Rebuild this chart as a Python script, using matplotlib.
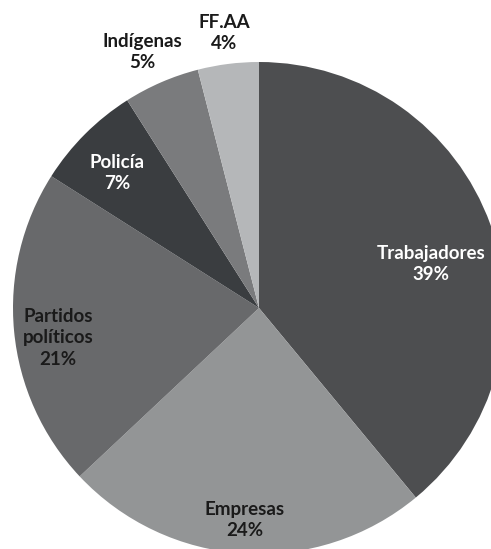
import matplotlib.pyplot as plt

# ------------------------------------------------------------------
# data (shares in %)
# ------------------------------------------------------------------
categories = ["Trabajadores", "Empresas", "Partidos\npolíticos", "Policía", "Indígenas", "FF.AA"]
shares = [39, 24, 21, 7, 5, 4]
colors = ["#4d4e50", "#939596", "#68696b", "#3a3d40", "#7a7b7d", "#b5b7b9"]
text_colors = ["white", "#1a1a1a", "#1a1a1a", "white", "#1a1a1a", "#1a1a1a"]

# label centres in pixel units (x from left, y from top)
label_pos = [(431, 264), (245, 520), (58, 338), (117, 173), (142, 52), (224, 33)]

W, H = 491, 549
fig = plt.figure(figsize=(W / 100, H / 100), dpi=100)
ax = fig.add_axes([0, 0, 1, 1])

# pie is cropped by the image on the right/bottom
ax.pie(shares, colors=colors, startangle=90, counterclock=False,
       center=(259, H - 308), radius=246,
       wedgeprops=dict(linewidth=0), frame=True)
ax.set_xlim(0, W)
ax.set_ylim(0, H)
ax.axis("off")

for name, val, (x, y), tc in zip(categories, shares, label_pos, text_colors):
    ax.text(x, H - y, f"{name}\n{val}%", ha="center", va="center",
            fontsize=13.5, fontweight="bold", color=tc, family="Lato",
            linespacing=1.3)

fig.savefig("out.png", dpi=100)
